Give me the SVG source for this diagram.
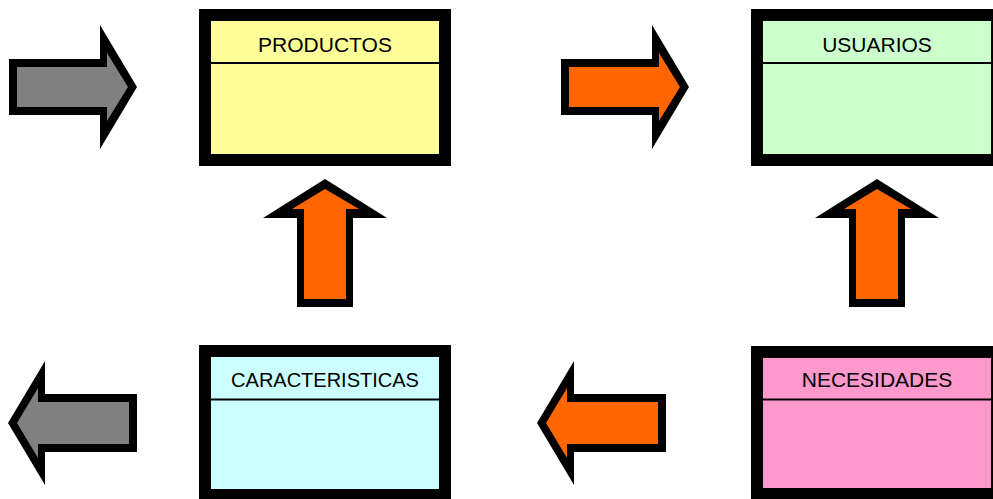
<svg xmlns="http://www.w3.org/2000/svg" width="993" height="499" viewBox="0 0 993 499">
  <defs>
    <style>
      .box { stroke: #000; stroke-width: 12; }
      .divider { stroke: #000; stroke-width: 2; }
      .label { font-family: "Liberation Sans", Arial, sans-serif; font-size: 21px; fill: #000; text-anchor: middle; }
      .label.narrow { font-size: 20px; }
      .outline { fill: #000; }
      .gray { fill: #808080; }
      .orange { fill: #FF6600; }
    </style>
    <!-- block arrow shapes: black outline polygon plus inner fill polygon -->
    <g id="arrow-right-outline"><polygon points="9,59 100,59 100,25 137,87 100,149 100,115 9,115"/></g>
    <g id="arrow-right-fill"><polygon points="17,67 107,67 107,53 128,87 107,121 107,107 17,107"/></g>
    <g id="arrow-left-outline"><polygon points="8,423 45,361 45,394 137,394 137,452 45,452 45,485"/></g>
    <g id="arrow-left-fill"><polygon points="17,423 38,388 38,402 129,402 129,444 38,444 38,458"/></g>
    <g id="arrow-up-outline"><polygon points="325,179 387,218 353,218 353,307 297,307 297,218 263,218"/></g>
    <g id="arrow-up-fill"><polygon points="325,189 359,209 346,209 346,299 304,299 304,209 292,209"/></g>
  </defs>

  <rect width="993" height="499" fill="#FFFFFF"/>

  <g id="connectors">
    <!-- incoming arrow into PRODUCTOS -->
    <g id="arrow-in">
      <use href="#arrow-right-outline" class="outline"/>
      <use href="#arrow-right-fill" class="gray"/>
    </g>
    <!-- PRODUCTOS to USUARIOS -->
    <g id="arrow-productos-usuarios" transform="translate(552,0)">
      <use href="#arrow-right-outline" class="outline"/>
      <use href="#arrow-right-fill" class="orange"/>
    </g>
    <!-- CARACTERISTICAS up to PRODUCTOS -->
    <g id="arrow-caracteristicas-productos">
      <use href="#arrow-up-outline" class="outline"/>
      <use href="#arrow-up-fill" class="orange"/>
    </g>
    <!-- NECESIDADES up to USUARIOS -->
    <g id="arrow-necesidades-usuarios" transform="translate(552,0)">
      <use href="#arrow-up-outline" class="outline"/>
      <use href="#arrow-up-fill" class="orange"/>
    </g>
    <!-- NECESIDADES to CARACTERISTICAS -->
    <g id="arrow-necesidades-caracteristicas" transform="translate(529,0)">
      <use href="#arrow-left-outline" class="outline"/>
      <use href="#arrow-left-fill" class="orange"/>
    </g>
    <!-- outgoing arrow from CARACTERISTICAS -->
    <g id="arrow-out">
      <use href="#arrow-left-outline" class="outline"/>
      <use href="#arrow-left-fill" class="gray"/>
    </g>
  </g>

  <g id="productos">
    <rect class="box" x="205" y="15" width="240" height="145" fill="#FFFF99"/>
    <line class="divider" x1="211" y1="63" x2="439" y2="63"/>
    <text class="label" x="325" y="52">PRODUCTOS</text>
  </g>

  <g id="usuarios">
    <rect class="box" x="757" y="15" width="240" height="145" fill="#CCFFCC"/>
    <line class="divider" x1="763" y1="63" x2="991" y2="63"/>
    <text class="label" x="877" y="52">USUARIOS</text>
  </g>

  <g id="caracteristicas">
    <rect class="box" x="205" y="351" width="240" height="144" fill="#CCFFFF"/>
    <line class="divider" x1="211" y1="399.5" x2="439" y2="399.5"/>
    <text class="label narrow" x="325" y="387">CARACTERISTICAS</text>
  </g>

  <g id="necesidades">
    <rect class="box" x="757" y="352" width="240" height="142" fill="#FF99CC"/>
    <line class="divider" x1="763" y1="399.5" x2="991" y2="399.5"/>
    <text class="label" x="877" y="387">NECESIDADES</text>
  </g>
</svg>
